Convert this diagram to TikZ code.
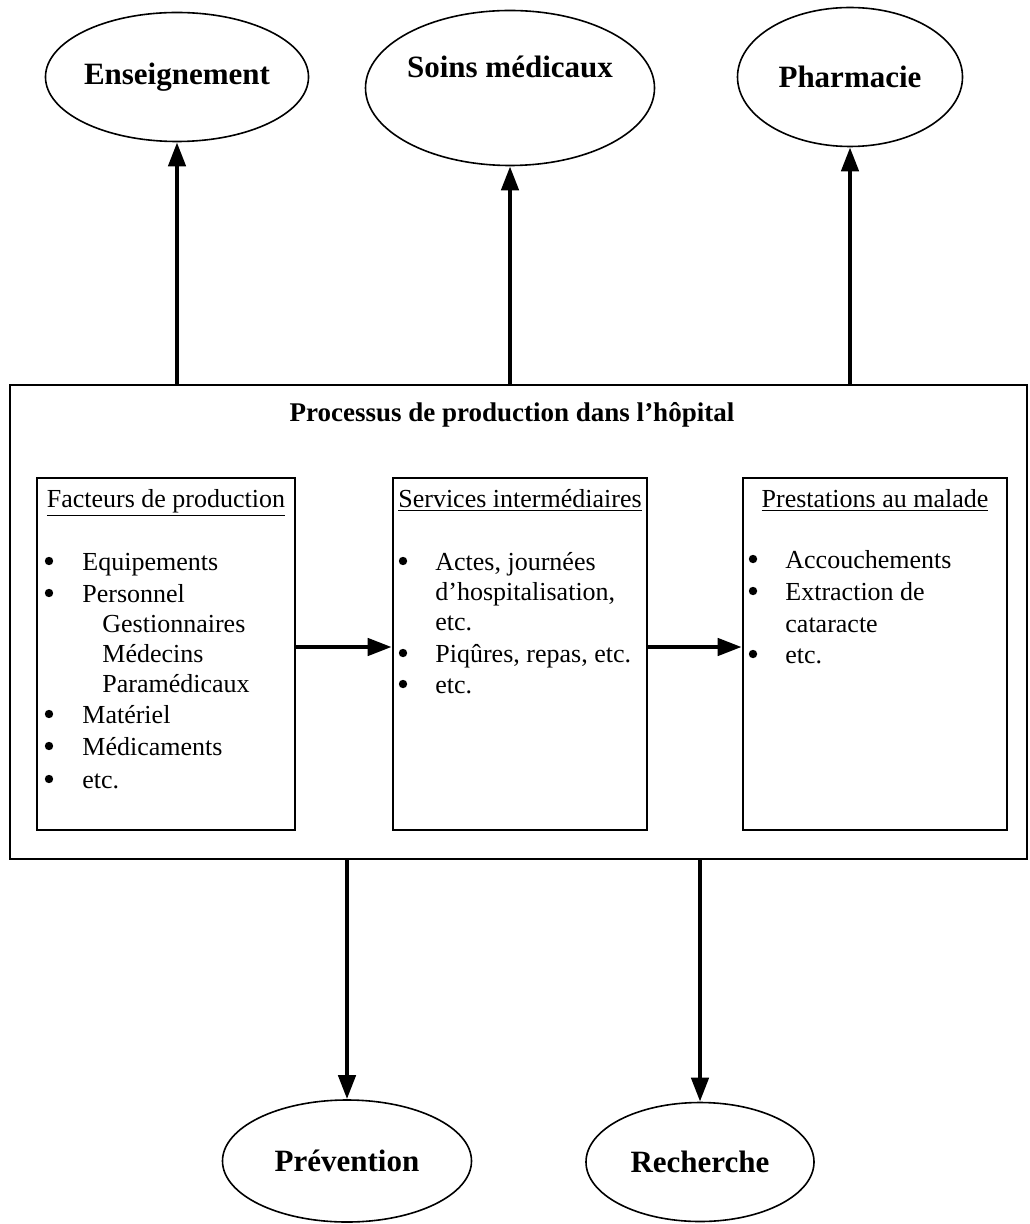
\documentclass[tikz,border=0pt]{standalone}
\usepackage{fontspec}
\setmainfont{Liberation Serif}
\usetikzlibrary{arrows.meta,shapes.geometric}

\begin{document}
\begin{tikzpicture}[x=0.5pt,y=-0.5pt,
  txt/.style={font=\fontsize{13}{15}\selectfont,inner sep=0pt,anchor=base west},
  head/.style={txt,anchor=base},
  dot/.style={circle,fill,inner sep=0pt,minimum size=4.2pt},
  oval/.style={draw,ellipse,line width=0.8pt,inner sep=0pt,
               font=\bfseries\fontsize{15.5}{18}\selectfont},
  stage/.style={draw,line width=1.3pt,minimum width=#1,minimum height=176pt,inner sep=0pt},
  flow/.style={-{Triangle[length=12pt,width=8.5pt]},line width=2.2pt}]
\useasboundingbox (0,0) rectangle (1029,1224);
\node[draw,line width=1.2pt,minimum width=508.5pt,minimum height=237pt,inner sep=0pt] (proc) at (518.5,622) {};
\node[font=\bfseries\fontsize{13.5}{16}\selectfont,inner sep=0pt,anchor=base] (ttl) at (512,422)
  {Processus de production dans l’hôpital};
\node[stage=129pt] (fp) at (166,654) {};
\node[stage=127pt] (si) at (520,654) {};
\node[stage=132pt] (pm) at (875,654) {};
\node[head] (fph) at (166,507) {\underline{Facteurs de production}};
\node[head] (sih) at (520,507) {\underline{Services intermédiaires}};
\node[head] (pmh) at (875,507) {\underline{Prestations au malade}};
% facteurs
\foreach \y/\lbl in {570/Equipements,602/Personnel,723/Matériel,755/Médicaments,788/etc.}{
  \node[dot] (fb\y) at (49,\y-9) {};
  \node[txt] (ft\y) at (82,\y) {\lbl};}
\foreach \y/\lbl in {632/Gestionnaires,662/Médecins,692/Paramédicaux}
  \node[txt] (fs\y) at (102,\y) {\lbl};
% services
\foreach \y in {570,662,693} \node[dot] (sb\y) at (403,\y-9) {};
\foreach \y/\lbl in {570/{Actes, journées},600/{d’hospitalisation,},630/etc.,662/{Piqûres, repas, etc.},693/etc.}
  \node[txt] (st\y) at (435,\y) {\lbl};
% prestations
\foreach \y in {568,600,663} \node[dot] (pb\y) at (753,\y-9) {};
\foreach \y/\lbl in {568/Accouchements,600/{Extraction de},632/cataracte,663/etc.}
  \node[txt] (pt\y) at (785,\y) {\lbl};
\node[oval,minimum width=128pt,minimum height=64.5pt] (ens) at (177,77) {Enseignement};
\node[oval,minimum width=144.5pt,minimum height=77.5pt] (soins) at (510,88) {};
\node[font=\bfseries\fontsize{15.5}{18}\selectfont,inner sep=0pt,anchor=base] (soinst) at (510,78) {Soins médicaux};
\node[oval,minimum width=112.5pt,minimum height=69.5pt] (pha) at (850,77) {Pharmacie};
\node[oval,minimum width=124.5pt,minimum height=61pt] (prev) at (347,1161) {Prévention};
\node[oval,minimum width=114pt,minimum height=59.5pt] (rech) at (700,1162) {Recherche};
\foreach \n in {ens,soins,pha}{\draw[flow] (proc.north -| \n.south) -- (\n.south);}
\foreach \n in {prev,rech}{\draw[flow] (proc.south -| \n.north) -- (\n.north);}
\draw[flow] ([yshift=3.5pt]fp.east) -- ([yshift=3.5pt]si.west);
\draw[flow] ([yshift=3.5pt]si.east) -- ([yshift=3.5pt]pm.west);
\end{tikzpicture}
\end{document}
